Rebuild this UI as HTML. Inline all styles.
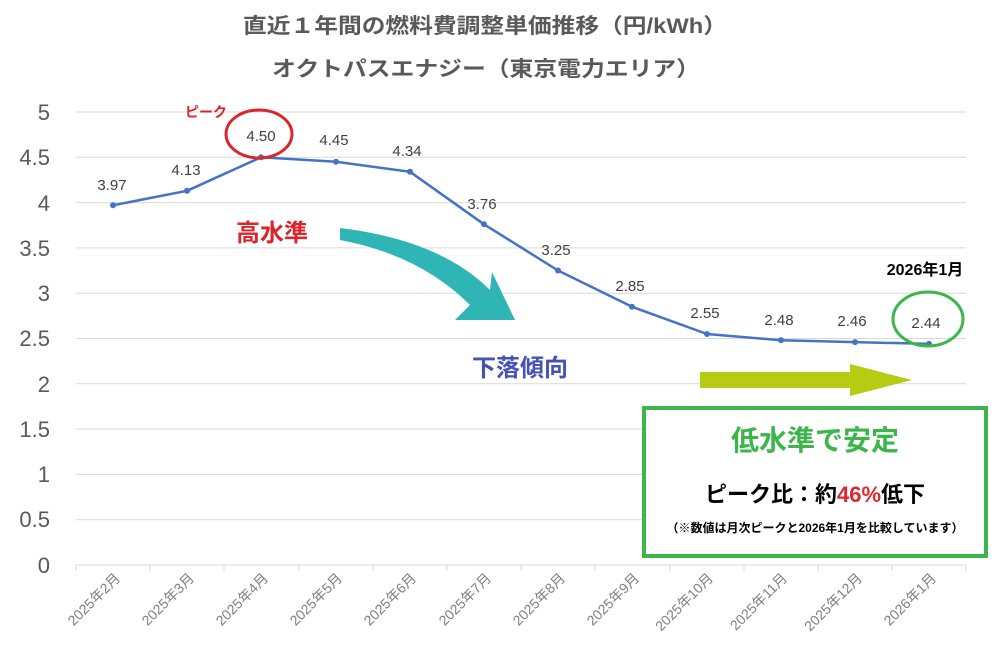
<!DOCTYPE html>
<html><head><meta charset="utf-8"><style>
html,body{margin:0;padding:0;background:#fff}
svg{display:block}
text{font-family:"Liberation Sans","Noto Sans CJK JP",sans-serif}
</style></head><body>
<svg width="1000" height="656" viewBox="0 0 1000 656" xmlns="http://www.w3.org/2000/svg">
<text x="485" y="33" text-anchor="middle" font-size="21" font-weight="bold" fill="#595959" textLength="484" lengthAdjust="spacingAndGlyphs">直近１年間の燃料費調整単価推移（円/kWh）</text>
<text x="486" y="76" text-anchor="middle" font-size="21" font-weight="bold" fill="#595959" textLength="428" lengthAdjust="spacingAndGlyphs">オクトパスエナジー（東京電力エリア）</text>
<g stroke="#d9d9d9" stroke-width="1">
<line x1="76" y1="112" x2="966" y2="112"/><line x1="76" y1="157.3" x2="966" y2="157.3"/>
<line x1="76" y1="202.6" x2="966" y2="202.6"/><line x1="76" y1="247.9" x2="966" y2="247.9"/>
<line x1="76" y1="293.2" x2="966" y2="293.2"/><line x1="76" y1="338.5" x2="966" y2="338.5"/>
<line x1="76" y1="383.8" x2="966" y2="383.8"/><line x1="76" y1="429.1" x2="966" y2="429.1"/>
<line x1="76" y1="474.4" x2="966" y2="474.4"/><line x1="76" y1="519.7" x2="966" y2="519.7"/>
<line x1="76" y1="565" x2="966" y2="565"/>
</g>
<g stroke="#d9d9d9"><line x1="76" y1="565" x2="76" y2="571"/><line x1="150" y1="565" x2="150" y2="571"/><line x1="224" y1="565" x2="224" y2="571"/><line x1="299" y1="565" x2="299" y2="571"/><line x1="373" y1="565" x2="373" y2="571"/><line x1="447" y1="565" x2="447" y2="571"/><line x1="521" y1="565" x2="521" y2="571"/><line x1="595" y1="565" x2="595" y2="571"/><line x1="670" y1="565" x2="670" y2="571"/><line x1="744" y1="565" x2="744" y2="571"/><line x1="818" y1="565" x2="818" y2="571"/><line x1="892" y1="565" x2="892" y2="571"/><line x1="966" y1="565" x2="966" y2="571"/></g>
<g font-size="22" fill="#595959" text-anchor="end">
<text x="50" y="120">5</text><text x="50" y="165">4.5</text><text x="50" y="211">4</text><text x="50" y="256">3.5</text><text x="50" y="301">3</text><text x="50" y="346">2.5</text><text x="50" y="392">2</text><text x="50" y="437">1.5</text><text x="50" y="482">1</text><text x="50" y="527">0.5</text><text x="50" y="573">0</text>
</g>
<g font-size="14" fill="#7f7f7f" text-anchor="end">
<text transform="translate(121,579) rotate(-45)">2025年2月</text>
<text transform="translate(195,579) rotate(-45)">2025年3月</text>
<text transform="translate(269,579) rotate(-45)">2025年4月</text>
<text transform="translate(343,579) rotate(-45)">2025年5月</text>
<text transform="translate(417,579) rotate(-45)">2025年6月</text>
<text transform="translate(492,579) rotate(-45)">2025年7月</text>
<text transform="translate(566,579) rotate(-45)">2025年8月</text>
<text transform="translate(640,579) rotate(-45)">2025年9月</text>
<text transform="translate(714,579) rotate(-45)">2025年10月</text>
<text transform="translate(788,579) rotate(-45)">2025年11月</text>
<text transform="translate(863,579) rotate(-45)">2025年12月</text>
<text transform="translate(937,579) rotate(-45)">2026年1月</text>
</g>
<polyline fill="none" stroke="#4472c4" stroke-width="2.5" stroke-linejoin="round" points="113,205.3 187,190.8 261,157.3 336,161.8 410,171.8 484,224.3 558,270.5 632,306.8 707,334 781,340.3 855,342.1 929,343.9"/>
<g fill="#4472c4"><circle cx="113" cy="205.3" r="3"/><circle cx="187" cy="190.8" r="3"/><circle cx="261" cy="157.3" r="3"/><circle cx="336" cy="161.8" r="3"/><circle cx="410" cy="171.8" r="3"/><circle cx="484" cy="224.3" r="3"/><circle cx="558" cy="270.5" r="3"/><circle cx="632" cy="306.8" r="3"/><circle cx="707" cy="334" r="3"/><circle cx="781" cy="340.3" r="3"/><circle cx="855" cy="342.1" r="3"/><circle cx="929" cy="343.9" r="3"/></g>
<g font-size="15" fill="#404040" text-anchor="middle">
<text x="112" y="190">3.97</text><text x="186" y="175">4.13</text><text x="261" y="141">4.50</text><text x="334" y="145">4.45</text><text x="407" y="156">4.34</text><text x="482" y="209">3.76</text><text x="556" y="255">3.25</text><text x="630" y="291">2.85</text><text x="705" y="318">2.55</text><text x="779" y="325">2.48</text><text x="852" y="326">2.46</text><text x="926" y="328">2.44</text>
</g>
<ellipse cx="259" cy="134" rx="33" ry="24" fill="none" stroke="#d9262c" stroke-width="3"/>
<text x="185" y="117" font-size="14" fill="#d9262c" font-weight="bold">ピーク</text>
<ellipse cx="928" cy="319" rx="35" ry="27" fill="none" stroke="#3cb54a" stroke-width="3"/>
<text x="925" y="275" text-anchor="middle" font-size="16" font-weight="bold" fill="#000">2026年1月</text>
<text x="272" y="241" text-anchor="middle" font-size="24" font-weight="bold" fill="#d9262c">高水準</text>
<path d="M340 228 Q440 240 490 290 L492 272 L515 320 L455 320 L470 305 Q420 255 340 240 Z" fill="#2fb5b5"/>
<text x="520" y="376" text-anchor="middle" font-size="24" font-weight="bold" fill="#4453b5">下落傾向</text>
<path d="M700 372 L850 372 L850 364 L912 380 L850 396 L850 388 L700 388 Z" fill="#b5cc12"/>
<rect x="644" y="408" width="342" height="148" fill="#fff" stroke="#3cb54a" stroke-width="4"/>
<text x="815" y="450" text-anchor="middle" font-size="28" font-weight="bold" fill="#3cb54a">低水準で安定</text>
<text x="815" y="502" text-anchor="middle" font-size="22" font-weight="bold" fill="#000">ピーク比：約<tspan fill="#e0262c">46%</tspan>低下</text>
<text x="815" y="532" text-anchor="middle" font-size="12" font-weight="bold" fill="#000">（※数値は月次ピークと2026年1月を比較しています）</text>
</svg>
</body></html>
